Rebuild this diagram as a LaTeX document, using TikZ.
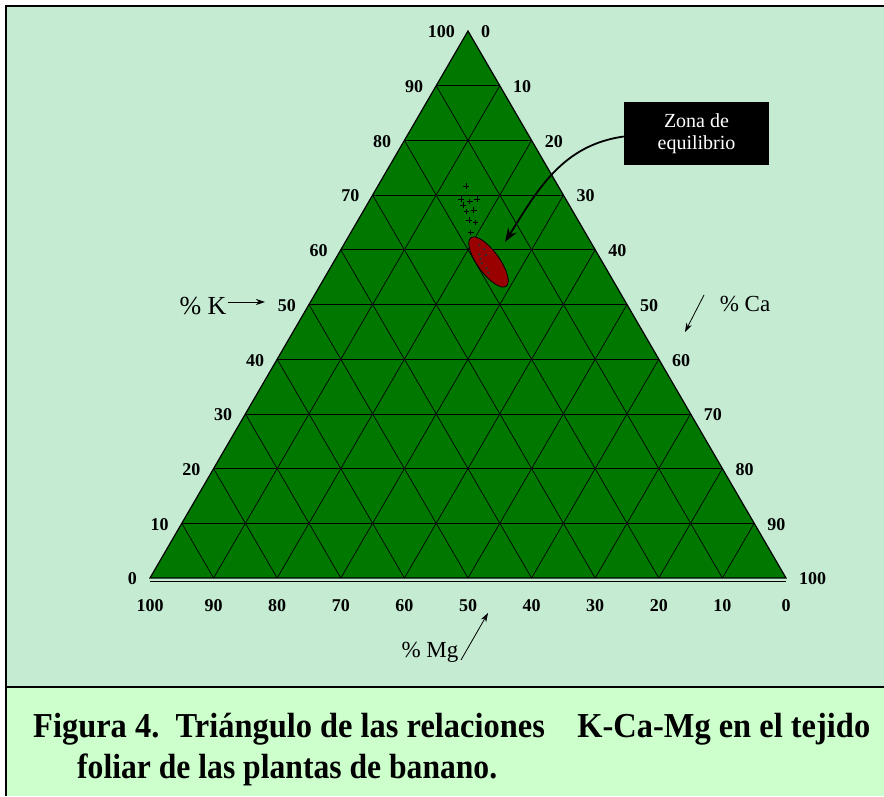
\documentclass[tikz,border=0pt]{standalone}
\usepackage{graphicx}
\usepackage{fontspec}
\setmainfont{Liberation Serif}
\usetikzlibrary{calc,arrows.meta}
\definecolor{panelgreen}{RGB}{197,235,211}
\definecolor{capgreen}{RGB}{204,255,204}
\definecolor{fieldgreen}{RGB}{0,120,0}
\definecolor{zonered}{RGB}{153,0,0}

\begin{document}
\begin{tikzpicture}[x=1pt,y=1pt,
    tick/.style={font=\fontsize{18}{18}\selectfont\bfseries, inner sep=0pt},
    axlabel/.style={font=\fontsize{23}{23}\selectfont, inner sep=0pt},
    axarrow/.style={-{Stealth[length=9pt,width=6pt]}, line width=0.8pt}]
    \useasboundingbox (0,0) rectangle (884,796);
    % panels
    \fill[panelgreen] (6,110) rectangle (884,790);
    \fill[capgreen] (6,0) rectangle (884,108);
    \draw[line width=2pt] (6,0) -- (6,790) -- (884,790);
    \draw[line width=2.5pt] (6,109) -- (884,109);
    % triangle and grid
    \coordinate (A) at (468,765);
    \coordinate (B) at (150,218);
    \coordinate (C) at (786,218);
    \fill[fieldgreen] (A) -- (B) -- (C) -- cycle;
    \foreach \i in {1,...,9} {
      \draw[line width=0.7pt] ($(B)!\i/10!(A)$) -- ($(C)!\i/10!(A)$);
      \draw[line width=0.7pt] ($(B)!\i/10!(C)$) -- ($(A)!\i/10!(C)$);
      \draw[line width=0.7pt] ($(B)!\i/10!(C)$) -- ($(B)!\i/10!(A)$);
    }
    \draw[line width=1.2pt] (A) -- (B) -- (C) -- cycle;
    \draw[line width=0.8pt] ([yshift=-3pt]B) -- ([yshift=-3pt]C);
    % scale labels
    \foreach \i in {0,...,10} {
      \pgfmathtruncatemacro\v{10*\i}
      \pgfmathtruncatemacro\w{100-10*\i}
      \node[tick,anchor=east,xshift=-13pt,yshift=-1pt] (kl\i) at ($(B)!\i/10!(A)$) {\v};
      \node[tick,anchor=west,xshift=13pt,yshift=-1pt] (cal\i) at ($(C)!\i/10!(A)$) {\w};
      \node[tick,anchor=north,yshift=-21pt] (mgl\i) at ($(B)!\i/10!(C)$) {\w};
    }
    % axis names
    \node[axlabel,font=\fontsize{26}{26}\selectfont] (pk) at (203,490) {\% K};
    \coordinate (kend) at (265,494);
    \draw[axarrow] ([xshift=1pt]pk.east |- kend) -- (kend);
    \node[axlabel] (pca) at (745,492) {\% Ca};
    \coordinate (cas) at (704,501);
    \coordinate (cae) at (685,464);
    \draw[axarrow] (cas) -- (cae);
    \node[axlabel] (pmg) at (430,144) {\% Mg};
    \coordinate (mgs) at (461,136);
    \coordinate (mge) at (488,183);
    \draw[axarrow] (mgs) -- (mge);
    % samples
    \foreach \p in {(466,610),(461,596.7),(469.7,594.3),(477,596.7),(463,590.7),
                    (466.3,584.3),(473.7,586),(469,576),(475.3,573.3),(470.7,563.3)}
      \draw[line width=0.6pt] \p +(-2.8,0) -- +(2.8,0) \p +(0,-2.8) -- +(0,2.8);
    \draw[fill=zonered, line width=0.8pt, rotate around={-54:(488.5,534)}]
        (488.5,534) ellipse [x radius=30, y radius=11];
    \foreach \p in {(479.3,551),(484,546.7),(479.3,541.7),(486,541),(480.7,537),
                    (481.7,532.7),(486.7,527.7),(488.3,523.3)}
      \fill[black!80] \p circle [radius=1.3];
    % zone label
    \node[fill=black, text=white, minimum width=145pt, minimum height=63pt,
          align=center, font=\fontsize{20}{22}\selectfont] (zona) at (696.5,662.5)
          {Zona de\\equilibrio};
    \coordinate (zend) at (505,554);
    \draw[line width=1.8pt, -{Stealth[length=14pt,width=10pt]}]
        ([yshift=-3pt]zona.west) to[out=188,in=58] (zend);
    % caption
    \node[anchor=base west, inner sep=0pt] (cap1) at (33,59)
        {\resizebox{837pt}{\height}{\fontsize{35}{40}\selectfont\bfseries
         Figura 4.\hspace{0.5em}Triángulo de las relaciones\hspace{1em}K-Ca-Mg en el tejido}};
    \node[anchor=base west, inner sep=0pt] (cap2) at (77,18)
        {\resizebox{420pt}{\height}{\fontsize{35}{40}\selectfont\bfseries
         foliar de las plantas de banano.}};
\end{tikzpicture}
\end{document}
